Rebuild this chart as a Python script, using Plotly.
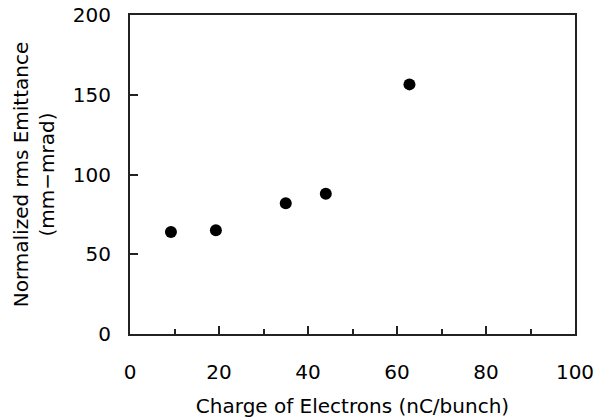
import plotly.graph_objects as go

charge = [9.2, 19.3, 35.0, 44.0, 62.8]
emittance = [64.0, 65.0, 82.0, 88.0, 156.5]

x_title = "Charge of Electrons (nC/bunch)"
y_title = "Normalized rms Emittance<br>(mm\u2212mrad)"

FONT = "DejaVu Sans"
LINE = "#222222"

fig = go.Figure()
fig.add_trace(go.Scatter(
    x=charge, y=emittance, mode="markers",
    marker=dict(color="black", size=12, line=dict(width=0)),
    showlegend=False,
))

fig.update_layout(
    width=596, height=418,
    margin=dict(l=130, r=21, t=15, b=84, autoexpand=False),
    paper_bgcolor="white", plot_bgcolor="white",
    font=dict(family=FONT, size=20, color="black"),
)
fig.update_xaxes(
    range=[0, 100], dtick=20, tick0=0,
    ticks="inside", ticklen=8, tickwidth=1.5, tickcolor=LINE,
    minor=dict(dtick=10, ticks="inside", ticklen=5, tickwidth=1.5, tickcolor=LINE),
    showline=True, linecolor=LINE, linewidth=2, mirror=True,
    showgrid=False, zeroline=False, automargin=False,
    ticklabelstandoff=19, ticklabeloverflow="allow",
    tickfont=dict(size=20),
    title=dict(text=x_title, font=dict(size=20), standoff=20),
)
fig.update_yaxes(
    range=[0, 200], dtick=50, tick0=0,
    ticks="inside", ticklen=8, tickwidth=1.5, tickcolor=LINE,
    showline=True, linecolor=LINE, linewidth=2, mirror=True,
    showgrid=False, zeroline=False, automargin=False,
    ticklabelstandoff=13, ticklabeloverflow="allow",
    tickfont=dict(size=20),
    title=dict(text=y_title, font=dict(size=20), standoff=13),
)

fig.write_html(
    "out.html",
    config={"displayModeBar": False},
    post_script="document.body.style.margin='0';document.body.style.overflow='hidden';",
)
